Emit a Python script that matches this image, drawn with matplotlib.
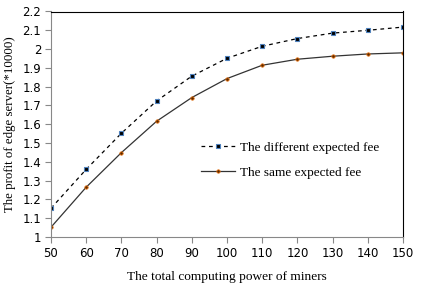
import numpy as np
import matplotlib
matplotlib.use("Agg")
import matplotlib.pyplot as plt

# Data
power = [50, 60, 70, 80, 90, 100, 110, 120, 130, 140, 150]
diff_fee = [1.153, 1.36, 1.552, 1.724, 1.856, 1.951, 2.015, 2.056, 2.085, 2.10, 2.117]
same_fee = [1.052, 1.265, 1.449, 1.616, 1.742, 1.843, 1.914, 1.946, 1.962, 1.974, 1.98]
yticks = [1, 1.1, 1.2, 1.3, 1.4, 1.5, 1.6, 1.7, 1.8, 1.9, 2, 2.1, 2.2]

fig = plt.figure(figsize=(4.26, 2.88), dpi=100)
ax = fig.add_axes([51/426, 1 - 237/288, (403-51)/426, (237-11.5)/288])

ax.plot(power, diff_fee, color='black', linestyle=(0, (3, 3)), linewidth=0.9,
        marker='s', markersize=3.4, markerfacecolor='black',
        markeredgecolor='#4F81BD', markeredgewidth=0.8,
        label='The different expected fee')
ax.plot(power, same_fee, color='#333333', linestyle='-', linewidth=0.9,
        marker='o', markersize=2.4, markerfacecolor='#5a2a00',
        markeredgecolor='#E46C0A', markeredgewidth=0.6,
        label='The same expected fee')

ax.set_xlim(50, 150)
ax.set_ylim(1, 2.2)
ax.set_xticks(power)
ax.set_yticks(yticks)
ax.set_yticklabels([f'{v:g}' for v in yticks])

for s in ['left', 'bottom']:
    ax.spines[s].set_color('#888888')
for s in ['top', 'right']:
    ax.spines[s].set_color('black')
ax.tick_params(axis='both', direction='out', length=4, width=0.8,
               color='#888888', labelsize=8.5, pad=3)

ax.set_xlabel('The total computing power of miners', family='Liberation Serif',
              fontsize=9.6, labelpad=8)
ax.set_ylabel('The profit of edge server(*10000)', family='Liberation Serif',
              fontsize=9.3, labelpad=5)

ax.legend(loc='upper left', bbox_to_anchor=(0.426, 0.422), frameon=False,
          borderaxespad=0, borderpad=0,
          prop={'family': 'Liberation Serif', 'size': 9.5},
          handlelength=2.6, handletextpad=0.35, labelspacing=0.95)

fig.savefig('out.png', dpi=100)
